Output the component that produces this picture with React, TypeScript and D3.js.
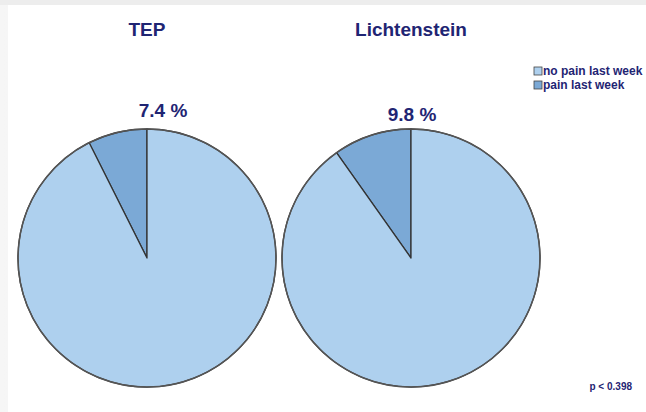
import React from "react";
import * as d3 from "d3";

const groups = ["TEP", "Lichtenstein"];
const painPercent = [7.4, 9.8];
const categories = ["no pain last week", "pain last week"];
const colors = ["#aed0ee", "#7ba9d6"];
const pValueLabel = "p < 0.398";

const W = 646;
const H = 412;
const textColor = "#1f2573";

export default function App() {
  const xScale = d3.scalePoint<string>().domain(groups).range([147, 411]);
  const cy = 258;
  const r = 129;
  const arc = d3.arc<d3.PieArcDatum<number>>().innerRadius(0).outerRadius(r);
  const pie = d3
    .pie<number>()
    .sort(null)
    .startAngle(0)
    .endAngle(-2 * Math.PI);
  const labelPos = [
    { x: 163, y: 117 },
    { x: 412, y: 121 },
  ];
  return (
    <svg
      width={W}
      height={H}
      style={{ position: "absolute", left: 0, top: 0 }}
      fontFamily="Liberation Sans, Arial, sans-serif"
    >
      <defs>
        <linearGradient id="lg" x1="0" x2="1" y1="0" y2="0">
          <stop offset="0" stopColor="#f6f6f6" />
          <stop offset="1" stopColor="#ececec" />
        </linearGradient>
      </defs>
      <rect x={0} y={0} width={W} height={H} fill="url(#lg)" />
      <rect x={0} y={0} width={W} height={5} fill="#ededed" />
      <rect x={8} y={5} width={W - 8} height={H - 5} fill="#ffffff" />
      {groups.map((g, i) => {
        // pain slice goes counter-clockwise from 12 o'clock
        const arcs = pie([painPercent[i], 100 - painPercent[i]]);
        const cx = xScale(g)!;
        return (
          <g key={g}>
            <text
              x={cx}
              y={36}
              textAnchor="middle"
              fontSize={19}
              fontWeight="bold"
              fill={textColor}
            >
              {g}
            </text>
            <g transform={`translate(${cx},${cy})`}>
              {arcs.map((a, j) => (
                <path
                  key={j}
                  d={arc(a)!}
                  fill={j === 0 ? colors[1] : colors[0]}
                  stroke="#333"
                  strokeWidth={1.3}
                  strokeLinejoin="round"
                />
              ))}
              <circle r={r} fill="none" stroke="#555" strokeWidth={1.5} />
            </g>
            <text
              x={labelPos[i].x}
              y={labelPos[i].y}
              textAnchor="middle"
              fontSize={19}
              fontWeight="bold"
              fill={textColor}
            >
              {`${painPercent[i].toFixed(1)} %`}
            </text>
          </g>
        );
      })}
      {categories.map((c, i) => (
        <g key={c} transform={`translate(534,${67 + i * 14})`}>
          <rect width={8} height={8} fill={colors[i]} stroke="#444" strokeWidth={0.8} />
          <text x={9} y={8} fontSize={12} fontWeight="bold" fill={textColor}>
            {c}
          </text>
        </g>
      ))}
      <text x={632} y={390} textAnchor="end" fontSize={10} fontWeight="bold" fill={textColor}>
        {pValueLabel}
      </text>
    </svg>
  );
}
